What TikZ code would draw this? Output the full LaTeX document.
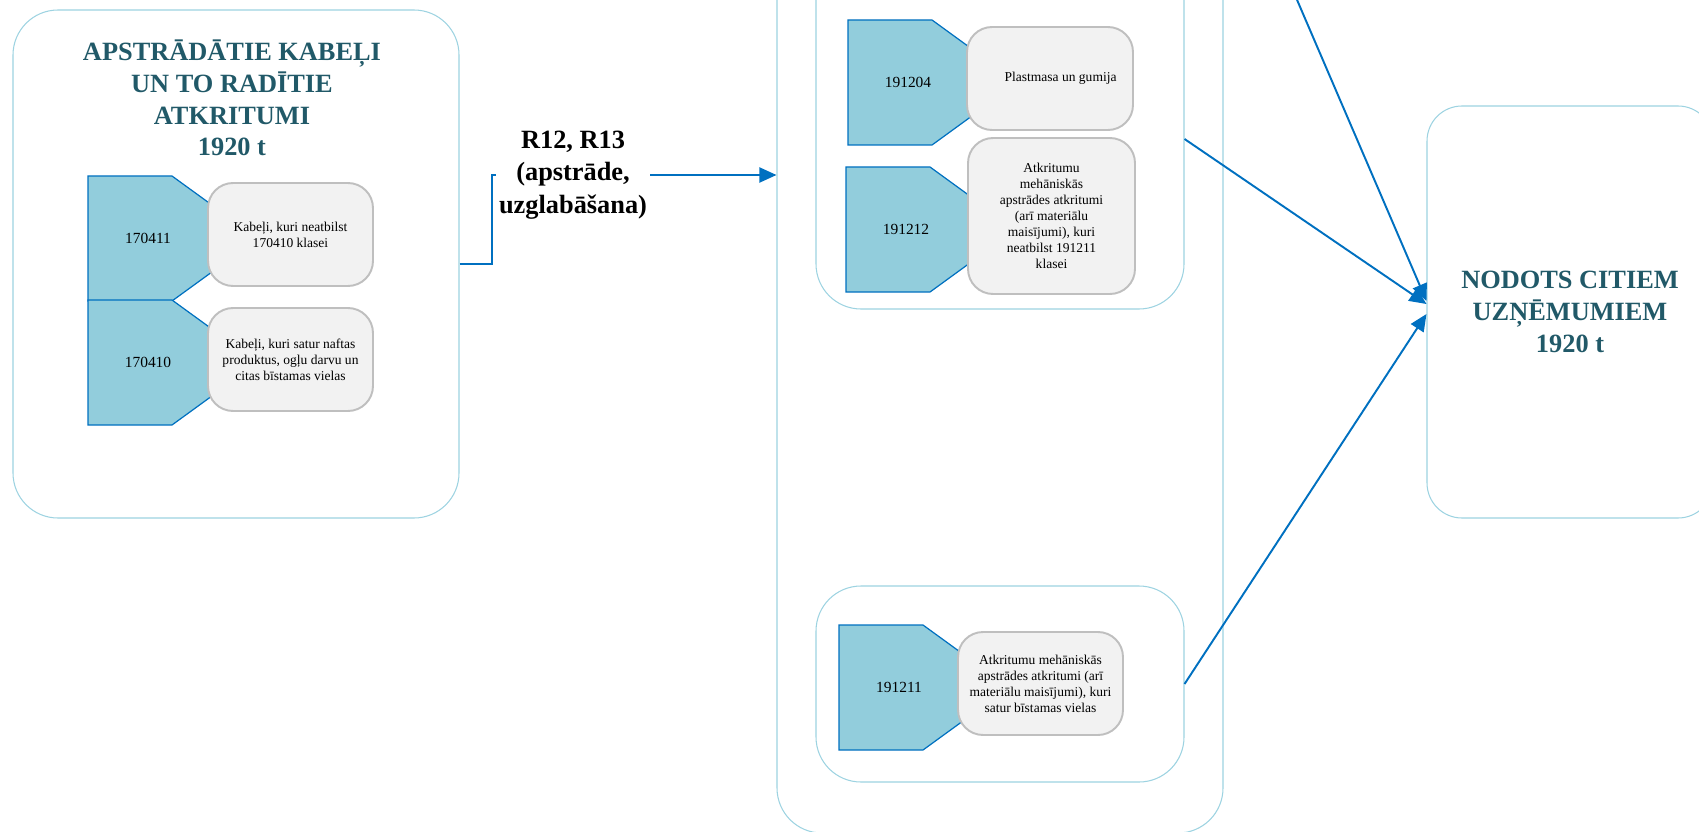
\documentclass[tikz,border=0pt]{standalone}
\usepackage{fontspec}
\setmainfont{Liberation Serif}
\usetikzlibrary{arrows.meta,fit}

\definecolor{titleteal}{HTML}{215968}
\definecolor{framecol}{HTML}{9DD3E1}
\definecolor{codefill}{HTML}{92CDDC}
\definecolor{flowblue}{HTML}{0070C0}
\definecolor{descfill}{HTML}{F2F2F2}
\definecolor{descline}{HTML}{BFBFBF}

\tikzset{
  frame/.style={draw=framecol, line width=0.6pt, rounded corners=0.9cm, inner sep=0pt},
  codecell/.style={draw=flowblue, line width=0.7pt, fill=codefill},
  codetext/.style={font=\fontsize{8.8}{10}\selectfont},
  descbox/.style={draw=descline, line width=1.1pt, fill=descfill, rounded corners=0.5cm,
    align=center, inner sep=2pt, font=\fontsize{7.7}{9.1}\selectfont},
  bigtitle/.style={align=center, text=titleteal, font=\fontsize{15}{18}\selectfont\bfseries},
  flow/.style={draw=flowblue, line width=1.1pt, -{Triangle[length=0.34cm,width=0.3cm]}}
}

\begin{document}
\begin{tikzpicture}[x=0.02cm,y=-0.02cm]

\useasboundingbox (0,0) rectangle (1699,831);
\clip (0,0) rectangle (1699,831);

%draw frames
\node[frame, fit={(13,10) (459,518)}] (src) {};
\node[frame, fit={(777,-100) (1223,833)}] (mid) {};
\node[frame, fit={(816,-120) (1184,309)}] (grpA) {};
\node[frame, fit={(816,586) (1184,782)}] (grpB) {};
\node[frame, rounded corners=0.7cm, fit={(1427,106) (1713,518)}] (dst) {};

%draw waste code cells
\foreach \x/\y/\code in {88/176/170411, 88/300/170410, 848/20/191204, 846/167/191212, 839/625/191211}
	{
	\draw[codecell] (\x,\y) -- ++(84,0) -- ++(86,62.5) -- ++(-86,62.5) -- ++(-84,0) -- cycle;
	\node[codetext] (c\code) at (\x+60,\y+62) {\code};
	}

%draw descriptions
\node[descbox, minimum width=3.3cm, minimum height=2.06cm] (d170411) at (290.5,234.5)
	{Kabeļi, kuri neatbilst\\170410 klasei};
\node[descbox, minimum width=3.3cm, minimum height=2.06cm] (d170410) at (290.5,359.5)
	{Kabeļi, kuri satur naftas\\produktus, ogļu darvu un\\citas bīstamas vielas};
\node[descbox, minimum width=3.32cm, minimum height=2.06cm] (d191204) at (1050,78.5)
	{\hspace*{12pt}Plastmasa un gumija};
\node[descbox, minimum width=3.34cm, minimum height=3.12cm] (d191212) at (1051.5,216)
	{Atkritumu\\mehāniskās\\apstrādes atkritumi\\(arī materiālu\\maisījumi), kuri\\neatbilst 191211\\klasei};
\node[descbox, minimum width=3.3cm, minimum height=2.06cm] (d191211) at (1040.5,683.5)
	{Atkritumu mehāniskās\\apstrādes atkritumi (arī\\materiālu maisījumi), kuri\\satur bīstamas vielas};

%label frames
\node[bigtitle] (srctitle) at (232,98) {APSTRĀDĀTIE KABEĻI\\UN TO RADĪTIE\\ATKRITUMI\\1920 t};
\node[bigtitle] (dsttitle) at (1570,312) {NODOTS CITIEM\\UZŅĒMUMIEM\\1920 t};

%draw flows
\draw[flow] (src.east) -- ++(32,0) |- (mid.west |- 0,175)
	node[pos=0.643, fill=white, inner sep=1.5pt, align=center, font=\fontsize{15}{18.5}\selectfont\bfseries] (ops)
	{R12, R13\\(apstrāde,\\uzglabāšana)};
\coordinate (upper) at (1184,-263);
\draw[flow] (upper) -- (dst.west |- 0,301);
\draw[flow] (grpA.east |- 0,139) -- (dst.west |- 0,304);
\draw[flow] (grpB.east) -- (dst.west |- 0,314);

\end{tikzpicture}
\end{document}
